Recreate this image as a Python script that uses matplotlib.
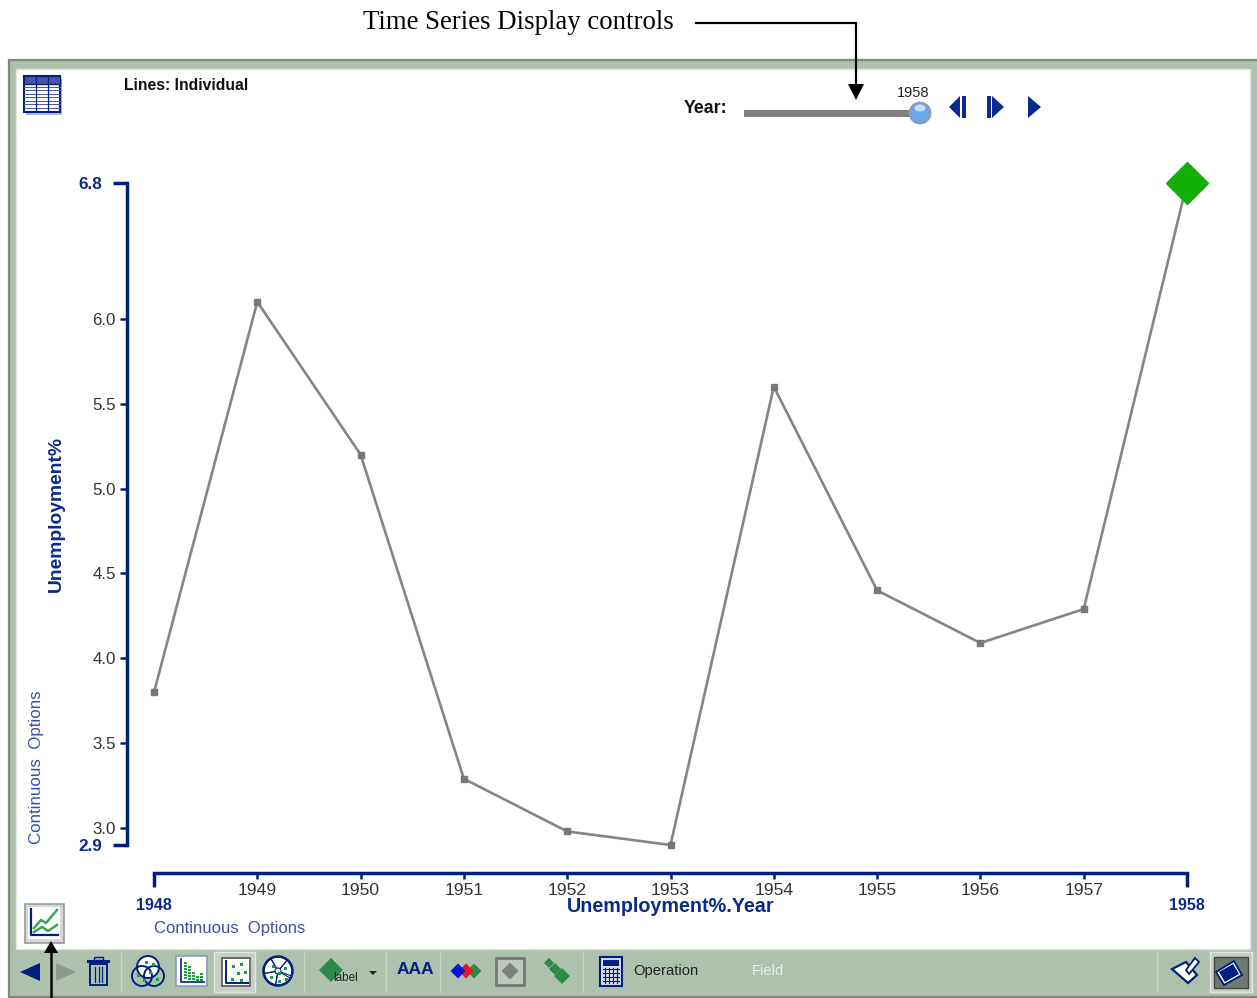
import matplotlib
matplotlib.use("Agg")
import matplotlib.pyplot as plt
from matplotlib.patches import Rectangle, Polygon, Circle, Ellipse, Wedge

years = [1948, 1949, 1950, 1951, 1952, 1953, 1954, 1955, 1956, 1957, 1958]
unemployment = [3.8, 6.1, 5.2, 3.29, 2.98, 2.9, 5.6, 4.4, 4.09, 4.29, 6.8]
y_inner_ticks = [3.0, 3.5, 4.0, 4.5, 5.0, 5.5, 6.0]
x_inner_ticks = years[1:-1]
y_end_ticks = [2.9, 6.8]
x_end_ticks = [1948, 1958]

W, H = 1257, 998
NAVY = "#0a2a8c"
DARK = "#00207f"
GREEN_BG = "#adc1ad"
TICK_TXT = "#333333"
SANS = "Liberation Sans"

plt.rcParams["font.family"] = SANS
fig = plt.figure(figsize=(W / 100, H / 100), dpi=100, facecolor="white")

# overlay in pixel coordinates for the application window and toolbar
ui = fig.add_axes([0, 0, 1, 1])
ui.set_xlim(0, W)
ui.set_ylim(H, 0)
ui.axis("off")


def rect(x0, y0, x1, y1, fc, ec="none", lw=0, z=1):
    ui.add_patch(Rectangle((x0, y0), x1 - x0, y1 - y0, fc=fc, ec=ec, lw=lw, zorder=z))


def poly(pts, fc, ec="none", lw=0, z=3):
    ui.add_patch(Polygon(pts, closed=True, fc=fc, ec=ec, lw=lw, zorder=z))


def diamond(cx, cy, r, fc, z=3):
    poly([(cx - r, cy), (cx, cy - r), (cx + r, cy), (cx, cy + r)], fc, z=z)


def sep(x):
    ui.plot([x, x], [953, 992], color="#c8d6c8", lw=1, zorder=2)


# window frame
rect(9, 60, W + 2, 997, GREEN_BG, ec="#7f8a7f", lw=1.6)
rect(16, 69, 1250, 949, "white", ec="#dfe8df", lw=1, z=1.5)

# annotation arrows
ui.text(363, 22, "Time Series Display controls", family="Liberation Serif",
        fontsize=19.3, color="black", va="center", ha="left")
ui.plot([696, 856, 856], [23, 23, 85], color="black", lw=1.6, zorder=5, solid_joinstyle="miter")
poly([(848, 84), (864, 84), (856, 100)], "black", z=5)
ui.plot([51, 51], [950, 998], color="black", lw=1.8, zorder=6)
poly([(44, 953), (58, 953), (51, 941)], "black", z=6)

# table icon
rect(26, 79, 62, 115, "#b9b9c9", z=1.6)
rect(24, 76, 60, 112, "white", ec=DARK, lw=1.5, z=2)
rect(24, 76, 60, 84, "#4a55a8", ec=DARK, lw=1, z=2.1)
for yy in [87, 90, 94, 97, 101, 104, 108]:
    ui.plot([24, 60], [yy, yy], color="#4a55a8", lw=0.7, zorder=2.2)
for xx in [36, 48]:
    ui.plot([xx, xx], [76, 112], color=DARK, lw=0.9, zorder=2.2)

ui.text(124, 85, "Lines: Individual", fontsize=11.3, fontweight="bold", color="#111111", va="center")

# year slider
ui.text(684, 108, "Year:", fontsize=12.8, fontweight="bold", color="#111111", va="center")
rect(744, 110, 912, 117, "#808080", z=3)
ui.add_patch(Circle((920, 113), 10.5, fc="#6ea6e6", ec="#8a9ab0", lw=1.2, zorder=3.2))
ui.add_patch(Ellipse((920, 108), 11, 7, fc="#c6def8", ec="none", zorder=3.3))
ui.text(913, 93, "1958", fontsize=10.5, color="#222222", ha="center", va="center")
poly([(949, 107), (960, 96), (960, 118)], NAVY)
rect(962, 96, 966, 118, NAVY, z=3)
poly([(992, 96), (1004, 107), (992, 118)], NAVY)
rect(987, 96, 991, 118, NAVY, z=3)
poly([(1028, 96), (1041, 107), (1028, 118)], NAVY)

# chart axes placed so that data limits land on the reference pixels
x0, x1 = 154, 1187
ytop, ybot = 183, 845
ax = fig.add_axes([x0 / W, 1 - ybot / H, (x1 - x0) / W, (ybot - ytop) / H])
ax.patch.set_alpha(0)
ax.set_xlim(years[0], years[-1])
ax.set_ylim(y_end_ticks[0], y_end_ticks[1])
ax.plot(years, unemployment, color="#858585", lw=1.9, clip_on=False, zorder=3)
ax.plot(years[:-1], unemployment[:-1], ls="none", marker="s", ms=5, color="#777777",
        clip_on=False, zorder=4)
ax.plot(years[-1:], unemployment[-1:], ls="none", marker="D", ms=21, color="#12ae06",
        mec="#12ae06", clip_on=False, zorder=5)

for s in ["top", "right"]:
    ax.spines[s].set_visible(False)
ax.spines["left"].set_position(("outward", 27 * 0.72))
ax.spines["bottom"].set_position(("outward", 28 * 0.72))
ax.spines["left"].set_color(DARK)
ax.spines["bottom"].set_color(DARK)
ax.spines["left"].set_linewidth(2.5)
ax.spines["bottom"].set_linewidth(2.5)

ax.set_yticks(y_end_ticks)
ax.set_yticklabels([f"{v:.1f}" for v in y_end_ticks], fontsize=12.3, fontweight="bold", color=NAVY)
ax.set_yticks(y_inner_ticks, minor=True)
ax.set_yticklabels([f"{v:.1f}" for v in y_inner_ticks], minor=True, fontsize=12.2, color=TICK_TXT)
ax.tick_params(axis="y", which="major", length=10, width=2.5, color=DARK, pad=8)
ax.tick_params(axis="y", which="minor", length=5, width=1.8, color=DARK, pad=3)
ax.set_xticks(x_end_ticks)
ax.set_xticklabels([str(v) for v in x_end_ticks], fontsize=11.5, fontweight="bold", color=NAVY)
ax.set_xticks(x_inner_ticks, minor=True)
ax.set_xticklabels([str(v) for v in x_inner_ticks], minor=True, fontsize=12.6, color=TICK_TXT)
ax.tick_params(axis="x", which="major", length=10, width=2.5, color=DARK, pad=8)
ax.tick_params(axis="x", which="minor", length=4, width=1.8, color=DARK, pad=3)

ui.text(671, 907, "Unemployment%.Year", fontsize=14.2, fontweight="bold", color=NAVY, ha="center", va="center")
ui.text(56, 514, "Unemployment%", fontsize=13.9, fontweight="bold", color=NAVY, rotation=90,
        ha="center", va="center")
ui.text(37, 767, "Continuous  Options", fontsize=12.2, color="#3850a8", rotation=90, ha="center", va="center")
ui.text(154, 928, "Continuous  Options", fontsize=12, color="#3850a8", ha="left", va="center")

# chart-type button above the toolbar
rect(25, 904, 64, 943, "#d8d8d8", ec="#9a9a9a", lw=1.2, z=2)
rect(28, 907, 60, 939, "white", z=2.1)
ui.plot([31, 31, 58], [909, 935, 935], color=DARK, lw=1.6, zorder=2.2)
ui.plot([34, 41, 46, 57], [928, 920, 923, 910], color="#3aa655", lw=1.8, zorder=2.2)
ui.plot([34, 42, 48, 57], [932, 927, 931, 925], color="#3aa655", lw=1.8, zorder=2.2)

# toolbar, left group
poly([(20, 972), (40, 963), (40, 981)], DARK)
poly([(56, 963), (76, 972), (56, 981)], "#8f9a8f")
rect(90, 964, 107, 985, "none", ec=DARK, lw=1.4, z=3)
rect(87, 960, 110, 963, DARK, z=3)
rect(94, 957, 103, 960, "none", ec=DARK, lw=1, z=3)
for xx in [95, 99, 102]:
    ui.plot([xx, xx], [967, 982], color=DARK, lw=0.9, zorder=3)
sep(121)
ui.add_patch(Circle((148, 967), 11, fc="white", ec=DARK, lw=1.4, zorder=3))
ui.add_patch(Circle((142, 976), 10, fc="none", ec=DARK, lw=1.4, zorder=3))
ui.add_patch(Circle((154, 976), 10, fc="none", ec=DARK, lw=1.4, zorder=3))
rect(176, 956, 207, 986, "white", ec="#8a96c8", lw=1.2, z=3)
ui.plot([181, 181, 204], [959, 982, 982], color=DARK, lw=1.2, zorder=3.1)
rect(214, 952, 255, 992, "#c6cfc6", ec="#e2e8e2", lw=1, z=2)
rect(222, 958, 250, 986, "white", ec="#606060", lw=1.3, z=3)
ui.plot([226, 226, 248], [961, 983, 983], color=DARK, lw=1.4, zorder=3.1)
ui.add_patch(Circle((278, 971), 14.5, fc="white", ec=DARK, lw=1.8, zorder=3))
for ang in [30, 100, 170, 240, 310]:
    ui.add_patch(Wedge((278, 971), 14, ang, ang + 70, width=11, fc="none", ec=DARK, lw=0.8, zorder=3.1))
bar_x = [184, 188, 192, 196, 200]
bar_top = [962, 966, 972, 976, 973]
for bx, bt in zip(bar_x, bar_top):
    for by in range(bt, 980, 3):
        rect(bx, by, bx + 2.6, by + 2.2, "#17a03c", z=3.2)
for gx, gy in [(145, 961), (152, 963), (137, 974), (143, 979), (156, 978), (149, 971),
               (232, 965), (240, 963), (237, 972), (244, 971), (231, 978), (240, 979),
               (272, 965), (284, 967), (278, 972), (270, 976), (285, 978), (278, 980)]:
    rect(gx, gy, gx + 2.6, gy + 2.6, "#17a03c", z=3.2)
sep(304)

# toolbar, marker controls
diamond(331, 970, 12, "#2a8a4a")
ui.text(346, 978, "label", fontsize=8.5, color="#222222", ha="center", va="center")
poly([(369, 971), (377, 971), (373, 975)], "#222222")
sep(386)
ui.text(397, 970, "AAA", fontsize=12.5, fontweight="bold", color=DARK, ha="left", va="center")
sep(440)
diamond(474, 971, 7.5, "#2a8a4a", z=3)
diamond(466, 971, 7.5, "#e81818", z=3.1)
diamond(458, 971, 7.5, "#0a14e0", z=3.2)
rect(496, 958, 524, 985, "#bcc8bc", ec="#777777", lw=2, z=3)
diamond(510, 971, 8.5, "#808080", z=3.1)
diamond(549, 963, 5, "#2a8a4a")
diamond(555, 969, 6, "#2a8a4a")
diamond(562, 976, 8, "#2a8a4a")
sep(583)

# toolbar, calculator and field labels
rect(600, 957, 622, 986, "#d8dcf0", ec=DARK, lw=1.5, z=3)
rect(603, 960, 619, 966, DARK, z=3.1)
for yy in [969, 973, 977, 981]:
    ui.plot([603, 619], [yy, yy], color=DARK, lw=0.8, zorder=3.1)
for xx in [605, 609, 613, 617]:
    ui.plot([xx, xx], [968, 983], color=DARK, lw=0.8, zorder=3.1)
ui.text(633, 971, "Operation", fontsize=10.6, color="#222222", va="center")
ui.text(752, 971, "Field", fontsize=10.6, color="#e9efe9", va="center")

# toolbar, right group
sep(1157)
poly([(1172, 969), (1186, 962), (1197, 975), (1188, 983)], "white", ec=DARK, lw=1.6)
poly([(1186, 970), (1195, 958), (1199, 962), (1189, 974)], "white", ec=DARK, lw=1.3, z=3.1)
rect(1210, 952, 1252, 992, "#c6cfc6", ec="#e2e8e2", lw=1, z=2)
rect(1214, 957, 1248, 988, "#6f7a70", ec="#444444", lw=1, z=2.5)
poly([(1216, 972), (1234, 961), (1242, 975), (1224, 985)], "white", ec=DARK, lw=1.4, z=3)
poly([(1219, 972), (1233, 964), (1239, 974), (1225, 982)], DARK, z=3.1)

fig.savefig("out.png", dpi=100)
